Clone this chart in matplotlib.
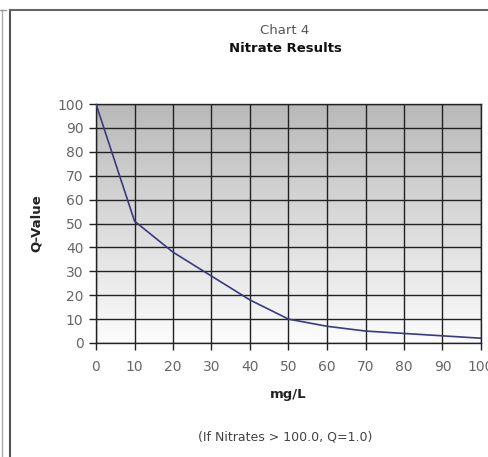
import matplotlib.pyplot as plt
import numpy as np
from matplotlib.lines import Line2D

nitrate = [0, 10, 20, 30, 40, 50, 60, 70, 80, 90, 100]
q_value = [100, 51, 38, 28, 18, 10, 7, 5, 4, 3, 2]
x_ticks = list(range(0, 101, 10))
y_ticks = list(range(0, 101, 10))

fig = plt.figure(figsize=(4.89, 4.57), dpi=100)
fig.patch.set_facecolor('white')

# page frame lines
fig.add_artist(Line2D([2/489, 2/489], [0, 1 - 10/457], color='#aaaaaa', lw=1))
fig.add_artist(Line2D([0, 6/489], [1 - 10/457, 1 - 10/457], color='#999999', lw=1))
fig.add_artist(Line2D([10/489, 10/489], [0, 1 - 10/457], color='#555555', lw=1.5))
fig.add_artist(Line2D([10/489, 1], [1 - 10/457, 1 - 10/457], color='#666666', lw=1.5))

ax = fig.add_axes([96/489, (457-343)/457, (481-96)/489, (343-104)/457])

# gradient background grey at top to white at bottom
grad = np.linspace(0, 1, 256).reshape(-1, 1)
ax.imshow(grad, extent=[0, 100, 0, 100], aspect='auto', origin='lower',
          cmap=plt.matplotlib.colors.LinearSegmentedColormap.from_list(
              'g', ['#fcfcfc', '#b9b9b9']), zorder=0)

ax.plot(nitrate, q_value, color='#3a3a80', lw=1.2, zorder=3)

ax.set_xlim(0, 100)
ax.set_ylim(0, 100)
ax.set_xticks(x_ticks)
ax.set_yticks(y_ticks)
ax.grid(True, color='#222222', lw=1, zorder=2)
ax.set_axisbelow(False)
for s in ax.spines.values():
    s.set_color('#222222')
    s.set_linewidth(1)
ax.tick_params(colors='#222222', labelcolor='#666666', labelsize=10,
               length=5, width=1)
ax.tick_params(axis='y', pad=4)
ax.tick_params(axis='x', pad=7)

ax.set_ylabel('Q-Value', fontsize=9.5, fontweight='bold', color='#222222', labelpad=10)
ax.set_xlabel('mg/L', fontsize=9.5, fontweight='bold', color='#222222', labelpad=10)

fig.text(285/489, 1 - 30/457, 'Chart 4', ha='center', va='center',
         fontsize=9.5, color='#555555')
fig.text(285/489, 1 - 48/457, 'Nitrate Results', ha='center', va='center',
         fontsize=9.5, fontweight='bold', color='#111111')
fig.text(285/489, 1 - 437/457, '(If Nitrates > 100.0, Q=1.0)', ha='center',
         va='center', fontsize=9, color='#444444')

fig.savefig('out.png', dpi=100)
